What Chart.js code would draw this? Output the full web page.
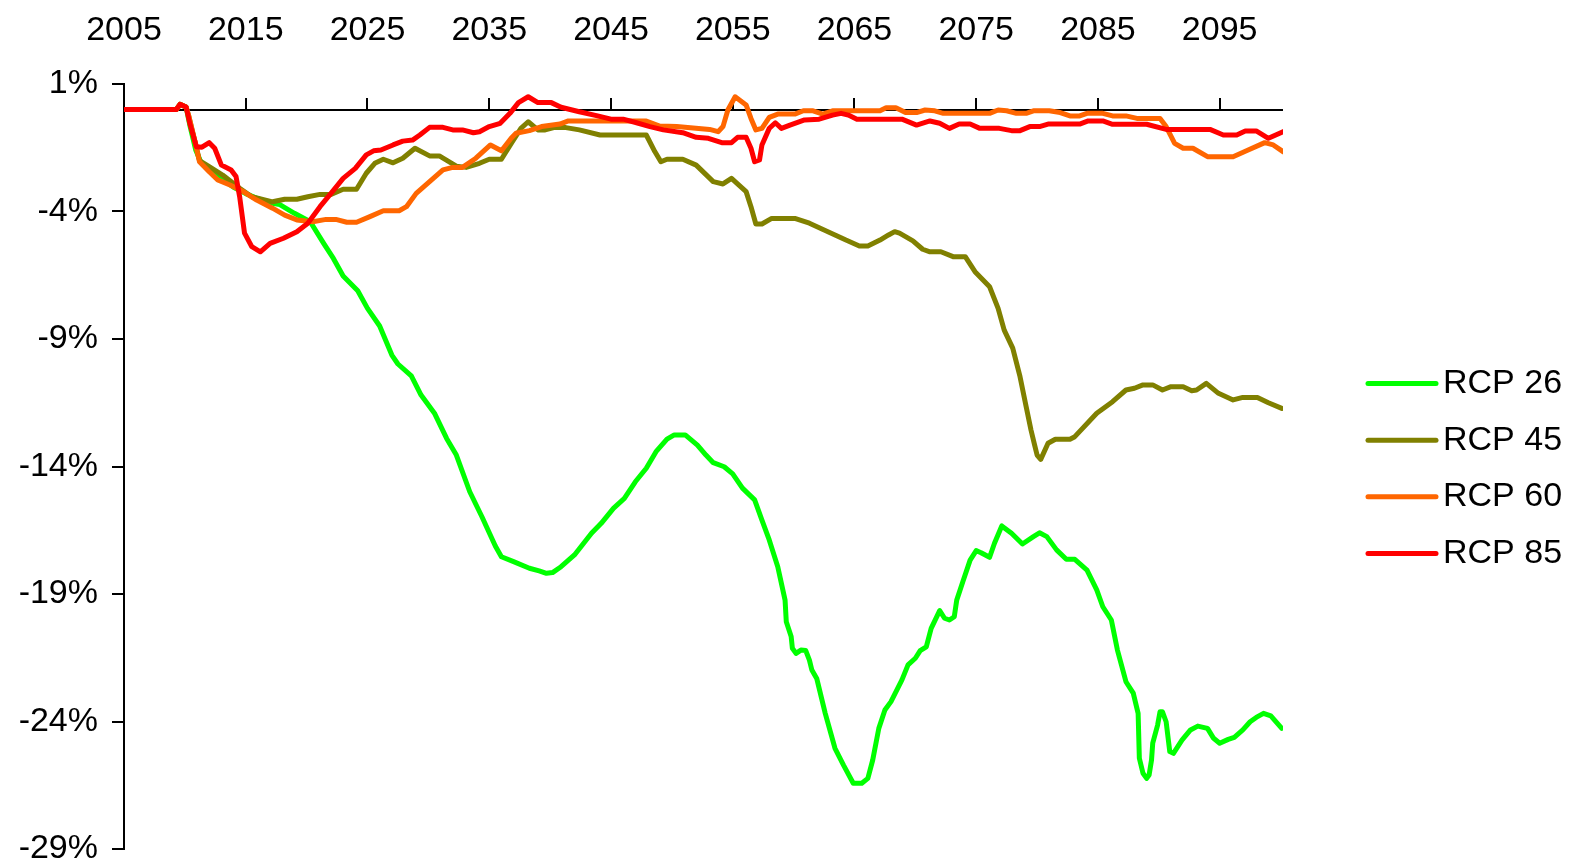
<!DOCTYPE html>
<html>
<head>
<meta charset="utf-8">
<script src="https://cdn.jsdelivr.net/npm/chart.js@4.4.1/dist/chart.umd.min.js"></script>
<style>
  html, body { margin: 0; padding: 0; background: #fff; }
  #wrap { width: 1572px; height: 865px; position: relative; }
</style>
</head>
<body>
<div id="wrap"><canvas id="chart"></canvas></div>
<script>
// axis ticks
const xTicks = [2005, 2015, 2025, 2035, 2045, 2055, 2065, 2075, 2085, 2095];
const yTicks = [1, -4, -9, -14, -19, -24, -29];

// RCP 26
const rcp26Years = [
  2005, 2009.3, 2009.6, 2010.1, 2010.4, 2010.9, 2011.3, 2012.0, 2013.0, 2014.0,
  2015.0, 2016.0, 2017.2, 2017.8, 2019.0, 2020.3, 2021.4, 2022.2, 2023.0, 2024.2,
  2025.0, 2026.0, 2027.0, 2027.5, 2028.6, 2029.4, 2030.5, 2031.5, 2032.3, 2033.4,
  2034.4, 2035.5, 2036.0, 2037.0, 2038.3, 2039.1, 2039.7, 2040.2, 2040.9, 2042.0,
  2043.4, 2044.2, 2045.2, 2046.1, 2047.0, 2047.9, 2048.7, 2049.6, 2050.2, 2051.1,
  2052.1, 2052.8, 2053.4, 2054.3, 2055.0, 2055.8, 2056.8, 2057.4, 2058.0, 2058.7,
  2059.3, 2059.4, 2059.8, 2059.9, 2060.2, 2060.6, 2061.0, 2061.3, 2061.5, 2061.9,
  2062.6, 2063.4, 2064.1, 2064.9, 2065.6, 2066.1, 2066.5, 2067.0, 2067.5, 2068.0,
  2068.9, 2069.4, 2070.0, 2070.4, 2070.9, 2071.3, 2072.0, 2072.4, 2072.8, 2073.2,
  2073.4, 2073.9, 2074.5, 2075.0, 2075.4, 2076.1, 2076.5, 2077.1, 2077.9, 2078.8,
  2079.7, 2080.2, 2080.8, 2081.6, 2082.4, 2083.1, 2084.1, 2084.9, 2085.4, 2086.1,
  2086.6, 2087.3, 2087.9, 2088.3, 2088.4, 2088.7, 2089.0, 2089.2, 2089.4, 2089.5,
  2089.9, 2090.1, 2090.3, 2090.6, 2090.9, 2091.2, 2091.9, 2092.6, 2093.2, 2094.0,
  2094.5, 2095.0, 2095.7, 2096.2, 2096.9, 2097.5, 2098.0, 2098.6, 2099.2, 2100.1
];
const rcp26 = [
  0, 0, 0.2, 0.1, -0.6, -1.6, -2.05, -2.35, -2.7, -3.05,
  -3.3, -3.5, -3.68, -3.73, -4.07, -4.4, -5.25, -5.84, -6.53, -7.11,
  -7.8, -8.49, -9.63, -9.98, -10.45, -11.2, -11.91, -12.9, -13.55, -14.99,
  -15.97, -17.12, -17.54, -17.73, -17.99, -18.09, -18.19, -18.16, -17.93, -17.47,
  -16.62, -16.23, -15.64, -15.25, -14.6, -14.07, -13.42, -12.93, -12.76, -12.76,
  -13.16, -13.55, -13.85, -14.01, -14.29, -14.85, -15.31, -16.1, -16.88, -17.93,
  -19.24, -20.09, -20.67, -21.13, -21.33, -21.2, -21.22, -21.59, -21.98, -22.31,
  -23.68, -25.05, -25.71, -26.42, -26.42, -26.23, -25.51, -24.27, -23.55, -23.22,
  -22.37, -21.78, -21.52, -21.22, -21.07, -20.35, -19.65, -19.95, -20.02, -19.89,
  -19.24, -18.52, -17.67, -17.3, -17.38, -17.56, -17.01, -16.33, -16.62, -17.04,
  -16.75, -16.6, -16.75, -17.27, -17.64, -17.64, -18.06, -18.84, -19.5, -20.02,
  -21.2, -22.44, -22.89, -23.68, -25.44, -26.03, -26.23, -26.1, -25.51, -24.85,
  -24.14, -23.62, -23.62, -24.01, -25.18, -25.25, -24.73, -24.33, -24.18, -24.27,
  -24.66, -24.85, -24.7, -24.62, -24.33, -24.01, -23.84, -23.68, -23.78, -24.27
];

// RCP 45
const rcp45Years = [
  2005, 2009.3, 2009.6, 2010.1, 2010.3, 2010.8, 2011.2, 2012.0, 2013.1, 2014.5,
  2015.5, 2017.2, 2018.2, 2019.2, 2020.1, 2021.1, 2022.0, 2023.0, 2024.1, 2024.9,
  2025.6, 2026.3, 2027.1, 2027.9, 2028.9, 2030.1, 2030.9, 2032.3, 2033.1, 2034.2,
  2035.0, 2036.0, 2036.9, 2037.6, 2038.2, 2039.0, 2039.6, 2040.3, 2041.3, 2042.4,
  2044.1, 2047.9, 2048.6, 2049.1, 2049.6, 2050.9, 2052.0, 2053.4, 2054.2, 2054.9,
  2056.1, 2056.5, 2056.9, 2057.4, 2058.2, 2060.1, 2061.3, 2063.0, 2064.3, 2065.4,
  2066.1, 2067.1, 2067.8, 2068.3, 2068.7, 2069.8, 2070.6, 2071.2, 2072.1, 2073.1,
  2074.1, 2074.9, 2076.1, 2076.8, 2077.3, 2078.0, 2078.6, 2079.1, 2079.5, 2079.8,
  2080.0, 2080.3, 2080.9, 2081.5, 2082.7, 2083.1, 2084.9, 2086.2, 2087.3, 2088.0,
  2088.7, 2089.5, 2090.3, 2091.0, 2092.0, 2092.7, 2093.1, 2093.9, 2094.9, 2096.1,
  2096.9, 2098.1, 2099.0, 2100.1
];
const rcp45 = [
  0, 0, 0.2, 0.1, -0.22, -1.2, -2.0, -2.24, -2.57, -3.09,
  -3.42, -3.62, -3.52, -3.52, -3.42, -3.33, -3.33, -3.13, -3.13, -2.5,
  -2.11, -1.95, -2.09, -1.91, -1.52, -1.82, -1.82, -2.22, -2.27, -2.11,
  -1.95, -1.95, -1.26, -0.74, -0.48, -0.8, -0.8, -0.71, -0.71, -0.8,
  -1.0, -1.0, -1.65, -2.05, -1.95, -1.95, -2.18, -2.83, -2.92, -2.7,
  -3.22, -3.81, -4.49, -4.49, -4.27, -4.27, -4.46, -4.83, -5.12, -5.35,
  -5.35, -5.12, -4.92, -4.79, -4.85, -5.15, -5.48, -5.58, -5.58, -5.77,
  -5.77, -6.36, -6.95, -7.8, -8.65, -9.36, -10.48, -11.65, -12.57, -13.16,
  -13.55, -13.72, -13.09, -12.93, -12.93, -12.83, -11.91, -11.46, -11.0, -10.93,
  -10.8, -10.8, -11.0, -10.87, -10.87, -11.03, -11.0, -10.74, -11.13, -11.39,
  -11.29, -11.29, -11.5, -11.72
];

// RCP 60
const rcp60Years = [
  2005, 2009.3, 2009.6, 2010.1, 2010.3, 2010.8, 2011.2, 2012.0, 2012.7, 2013.7,
  2014.8, 2015.9, 2017.2, 2018.2, 2019.2, 2020.5, 2021.6, 2022.4, 2023.3, 2024.1,
  2025.2, 2026.3, 2027.6, 2028.2, 2029.0, 2030.1, 2031.2, 2032.0, 2032.8, 2033.9,
  2035.1, 2036.0, 2036.8, 2037.2, 2038.3, 2039.3, 2040.8, 2041.5, 2047.9, 2049.0,
  2050.4, 2053.1, 2053.8, 2054.2, 2054.6, 2055.2, 2056.1, 2056.5, 2056.9, 2057.4,
  2058.0, 2058.7, 2060.1, 2060.8, 2061.6, 2062.4, 2063.2, 2067.1, 2067.6, 2068.4,
  2069.2, 2070.1, 2070.8, 2071.6, 2072.3, 2076.1, 2076.8, 2077.5, 2078.3, 2079.1,
  2079.7, 2081.0, 2081.9, 2082.7, 2083.5, 2084.1, 2085.4, 2086.2, 2087.3, 2088.2,
  2090.1, 2090.6, 2091.3, 2092.0, 2092.8, 2094.0, 2096.1, 2097.2, 2098.7, 2099.4,
  2100.2
];
const rcp60 = [
  0, 0, 0.2, 0.1, -0.22, -1.2, -2.05, -2.44, -2.76, -2.96,
  -3.22, -3.55, -3.87, -4.14, -4.33, -4.4, -4.31, -4.31, -4.42, -4.42,
  -4.2, -3.97, -3.97, -3.81, -3.29, -2.83, -2.37, -2.27, -2.27, -1.91,
  -1.39, -1.62, -1.13, -0.93, -0.83, -0.67, -0.57, -0.45, -0.45, -0.65,
  -0.67, -0.78, -0.87, -0.67, -0.02, 0.5, 0.18, -0.35, -0.8, -0.74,
  -0.31, -0.18, -0.18, -0.05, -0.05, -0.18, -0.05, -0.05, 0.07, 0.07,
  -0.12, -0.12, -0.02, -0.05, -0.15, -0.15, -0.02, -0.05, -0.15, -0.15,
  -0.05, -0.05, -0.12, -0.25, -0.25, -0.15, -0.15, -0.25, -0.25, -0.35,
  -0.35, -0.67, -1.33, -1.52, -1.52, -1.85, -1.85, -1.62, -1.3, -1.39,
  -1.65
];

// RCP 85
const rcp85Years = [
  2005, 2009.3, 2009.6, 2010.1, 2010.4, 2010.95, 2011.4, 2012.0, 2012.45, 2013.0,
  2013.8, 2014.2, 2014.5, 2014.9, 2015.5, 2016.2, 2017.0, 2018.1, 2019.2, 2020.1,
  2021.1, 2022.0, 2023.0, 2024.0, 2024.9, 2025.5, 2026.1, 2027.1, 2027.9, 2028.7,
  2029.3, 2030.1, 2031.2, 2032.0, 2032.8, 2033.7, 2034.2, 2035.0, 2035.9, 2036.7,
  2037.4, 2038.2, 2039.0, 2040.1, 2040.9, 2042.4, 2043.9, 2045.0, 2046.0, 2047.1,
  2048.2, 2049.3, 2050.9, 2052.0, 2053.0, 2054.1, 2054.9, 2055.4, 2056.1, 2056.5,
  2056.8, 2057.2, 2057.4, 2058.0, 2058.5, 2059.0, 2059.7, 2060.9, 2062.1, 2063.2,
  2063.9, 2064.5, 2065.2, 2068.9, 2070.1, 2071.2, 2072.0, 2072.8, 2073.6, 2074.5,
  2075.3, 2076.9, 2077.9, 2078.6, 2079.4, 2080.2, 2080.9, 2083.5, 2084.2, 2085.4,
  2086.2, 2089.0, 2090.6, 2094.2, 2095.3, 2096.4, 2097.1, 2098.0, 2099.0, 2100.2
];
const rcp85 = [
  0, 0, 0.2, 0.1, -0.54, -1.46, -1.48, -1.3, -1.52, -2.18,
  -2.37, -2.63, -3.42, -4.85, -5.38, -5.58, -5.25, -5.05, -4.79, -4.46,
  -3.81, -3.29, -2.7, -2.31, -1.78, -1.62, -1.59, -1.39, -1.24, -1.2,
  -1.0, -0.7, -0.7, -0.8, -0.8, -0.91, -0.87, -0.67, -0.54, -0.15,
  0.27, 0.5, 0.27, 0.27, 0.09, -0.09, -0.25, -0.38, -0.38, -0.52,
  -0.67, -0.8, -0.91, -1.09, -1.13, -1.3, -1.3, -1.09, -1.09, -1.52,
  -2.05, -1.98, -1.39, -0.74, -0.52, -0.74, -0.61, -0.41, -0.38, -0.22,
  -0.15, -0.22, -0.38, -0.38, -0.61, -0.45, -0.54, -0.74, -0.57, -0.57,
  -0.74, -0.74, -0.83, -0.83, -0.67, -0.67, -0.57, -0.57, -0.45, -0.45,
  -0.58, -0.58, -0.78, -0.78, -1.0, -1.0, -0.84, -0.84, -1.13, -0.87
];

const FONT = '"Liberation Sans", Arial, sans-serif';

function toPoints(years, values) {
  if (years.length !== values.length) {
    throw new Error('length mismatch ' + years.length + ' / ' + values.length);
  }
  return years.map((x, i) => ({ x: x, y: values[i] }));
}

function lineSet(label, years, values, color, order) {
  return {
    label: label,
    data: toPoints(years, values),
    borderColor: color,
    backgroundColor: color,
    borderWidth: 5,
    borderJoinStyle: 'round',
    borderCapStyle: 'round',
    pointRadius: 0,
    tension: 0,
    order: order
  };
}

// horizontal axis line crossing at 0, with tick marks pointing up
const zeroAxis = {
  id: 'zeroAxis',
  beforeDatasetsDraw(chart) {
    const { ctx, chartArea, scales } = chart;
    const y0 = Math.round(scales.y.getPixelForValue(0));
    ctx.save();
    ctx.strokeStyle = '#000';
    ctx.lineWidth = 2;
    ctx.beginPath();
    ctx.moveTo(chartArea.left, y0);
    ctx.lineTo(chartArea.right, y0);
    xTicks.forEach(t => {
      const x = Math.round(scales.x.getPixelForValue(t));
      ctx.moveTo(x, y0);
      ctx.lineTo(x, y0 - 12);
    });
    ctx.stroke();
    ctx.restore();
  }
};

// legend on the right, line samples
const sideLegend = {
  id: 'sideLegend',
  afterDraw(chart) {
    const { ctx, chartArea } = chart;
    const sets = chart.data.datasets;
    const mid = (chartArea.top + chartArea.bottom) / 2 + 2;
    ctx.save();
    ctx.font = '34px ' + FONT;
    ctx.textBaseline = 'middle';
    ctx.textAlign = 'left';
    sets.forEach((ds, i) => {
      const y = mid + (i - (sets.length - 1) / 2) * 56.6;
      ctx.strokeStyle = ds.borderColor;
      ctx.lineWidth = 5;
      ctx.lineCap = 'round';
      ctx.beginPath();
      ctx.moveTo(chartArea.right + 85, y);
      ctx.lineTo(chartArea.right + 153, y);
      ctx.stroke();
      ctx.fillStyle = '#000';
      ctx.fillText(ds.label, chartArea.right + 160, y);
    });
    ctx.restore();
  }
};

Chart.defaults.font.family = FONT;
Chart.defaults.font.size = 34;
Chart.defaults.color = '#000';

new Chart(document.getElementById('chart'), {
  type: 'line',
  data: {
    datasets: [
      lineSet('RCP 26', rcp26Years, rcp26, '#00ff00', 3),
      lineSet('RCP 45', rcp45Years, rcp45, '#808000', 2),
      lineSet('RCP 60', rcp60Years, rcp60, '#ff6600', 1),
      lineSet('RCP 85', rcp85Years, rcp85, '#ff0000', 0)
    ]
  },
  options: {
    responsive: true,
    maintainAspectRatio: false,
    animation: false,
    devicePixelRatio: 1,
    layout: { padding: { left: 0, right: 289, top: 0, bottom: 16 } },
    plugins: {
      legend: { display: false },
      tooltip: { enabled: false }
    },
    scales: {
      x: {
        type: 'linear',
        position: 'top',
        min: 2005,
        max: 2100.2,
        border: { display: false },
        grid: { display: false, drawTicks: false },
        ticks: {
          padding: 33,
          maxRotation: 0,
          autoSkip: false,
          callback: v => String(v)
        },
        afterBuildTicks: scale => { scale.ticks = xTicks.map(v => ({ value: v })); },
        afterFit: scale => {
          scale.height = 84;
          scale.paddingLeft = 0;
          scale.paddingRight = 0;
        }
      },
      y: {
        position: 'left',
        min: -29,
        max: 1,
        border: { display: true, color: '#000', width: 2 },
        grid: {
          drawOnChartArea: false,
          drawTicks: true,
          tickLength: 12,
          color: '#000',
          lineWidth: 2
        },
        ticks: {
          padding: 14,
          autoSkip: false,
          callback: v => v + '%'
        },
        afterBuildTicks: scale => { scale.ticks = yTicks.map(v => ({ value: v })); },
        afterFit: scale => {
          scale.width = 124;
          scale.paddingTop = 0;
          scale.paddingBottom = 0;
        }
      }
    }
  },
  plugins: [zeroAxis, sideLegend]
});
</script>
</body>
</html>
